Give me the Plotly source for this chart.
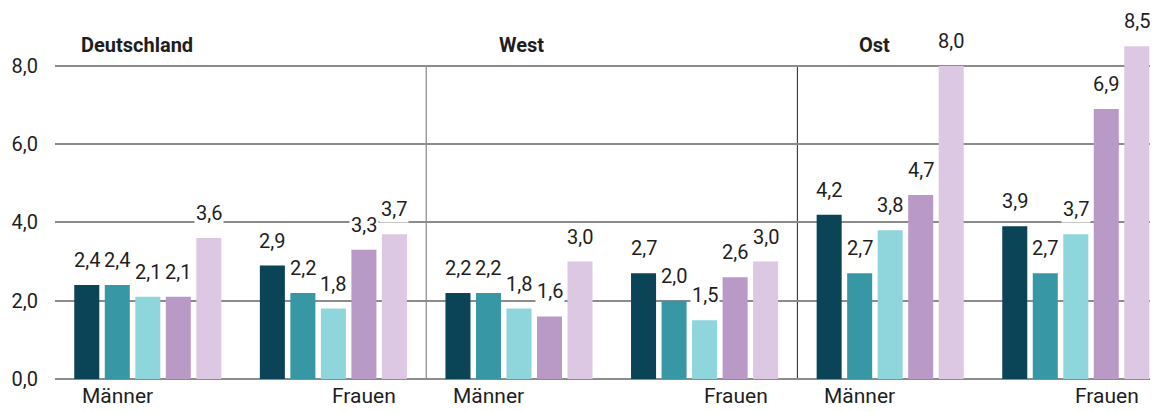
import plotly.graph_objects as go

regions = ["Deutschland", "West", "Ost"]
sexes = ["Männer", "Frauen"]
groups = ["Deutschland Männer", "Deutschland Frauen", "West Männer", "West Frauen", "Ost Männer", "Ost Frauen"]

series_names = ["Reihe 1", "Reihe 2", "Reihe 3", "Reihe 4", "Reihe 5"]
series_1 = [2.4, 2.9, 2.2, 2.7, 4.2, 3.9]
series_2 = [2.4, 2.2, 2.2, 2.0, 2.7, 2.7]
series_3 = [2.1, 1.8, 1.8, 1.5, 3.8, 3.7]
series_4 = [2.1, 3.3, 1.6, 2.6, 4.7, 6.9]
series_5 = [3.6, 3.7, 3.0, 3.0, 8.0, 8.5]
series_values = [series_1, series_2, series_3, series_4, series_5]

tick_vals = [0, 2, 4, 6, 8]

colors = ["#0b4357", "#3897a5", "#8fd5dc", "#b99ac6", "#dcc8e2"]
FONT = "Roboto, Liberation Sans, sans-serif"
TXT = "#1e1e1e"
BARGAP = 0.178
N = len(series_values)

fig = go.Figure()
for name, vals, col in zip(series_names, series_values, colors):
    fig.add_trace(go.Bar(name=name, x=groups, y=vals, marker_color=col,
                         marker_line_width=0, hoverinfo="x+y"))

# value labels
slot = (1 - BARGAP) / N
for si, vals in enumerate(series_values):
    for gi, v in enumerate(vals):
        fig.add_annotation(x=gi + (si - (N - 1) / 2) * slot, y=v, xref="x", yref="y",
                           text=f"{v:.1f}".replace(".", ","), showarrow=False,
                           yanchor="bottom", yshift=11, bgcolor="white", borderpad=1,
                           font=dict(family=FONT, size=20, color=TXT))

# sex labels under groups
for gi, g in enumerate(groups):
    sex = sexes[gi % 2]
    if gi % 2 == 0:
        fig.add_annotation(x=gi - 0.365, y=0, xref="x", yref="paper", text=sex,
                           xanchor="left", yanchor="top", yshift=-3, showarrow=False,
                           font=dict(family=FONT, size=21, color=TXT))
    else:
        fig.add_annotation(x=gi + 0.35, y=0, xref="x", yref="paper", text=sex,
                           xanchor="right", yanchor="top", yshift=-3, showarrow=False,
                           font=dict(family=FONT, size=21, color=TXT))

# region headers
header_x = [-0.371, 1.881, 3.821]
for r, hx in zip(regions, header_x):
    fig.add_annotation(x=hx, y=8.54, xref="x", yref="y", text=f"<b>{r}</b>",
                       xanchor="left", yanchor="middle", showarrow=False,
                       font=dict(family=FONT, size=20, color=TXT))

# dividers
for xd, c in [(1.5, "#6e6e6e"), (3.5, "#222222")]:
    fig.add_shape(type="line", x0=xd, x1=xd, y0=0, y1=8, xref="x", yref="y",
                  line=dict(color=c, width=1), layer="below")

fig.update_layout(
    width=1150, height=404,
    margin=dict(l=47, r=0, t=0, b=33, autoexpand=False),
    plot_bgcolor="white", paper_bgcolor="white",
    barmode="group", bargap=BARGAP, bargroupgap=0.18,
    showlegend=False,
    separators=",.",
    font=dict(family=FONT, size=20, color=TXT),
)
fig.update_xaxes(range=[-0.5, 5.443], showticklabels=False, showgrid=False,
                 zeroline=False, showline=False, ticks="", automargin=False)
fig.update_yaxes(range=[0, 9.48], tickvals=tick_vals, tickformat=".1f",
                 showgrid=True, gridcolor="#8c8c8c", gridwidth=1.5,
                 zeroline=True, zerolinecolor="#8c8c8c", zerolinewidth=2,
                 showline=False, ticks="", ticklabelstandoff=16, automargin=False,
                 tickfont=dict(family=FONT, size=20, color=TXT))

fig.write_html("out.html")
